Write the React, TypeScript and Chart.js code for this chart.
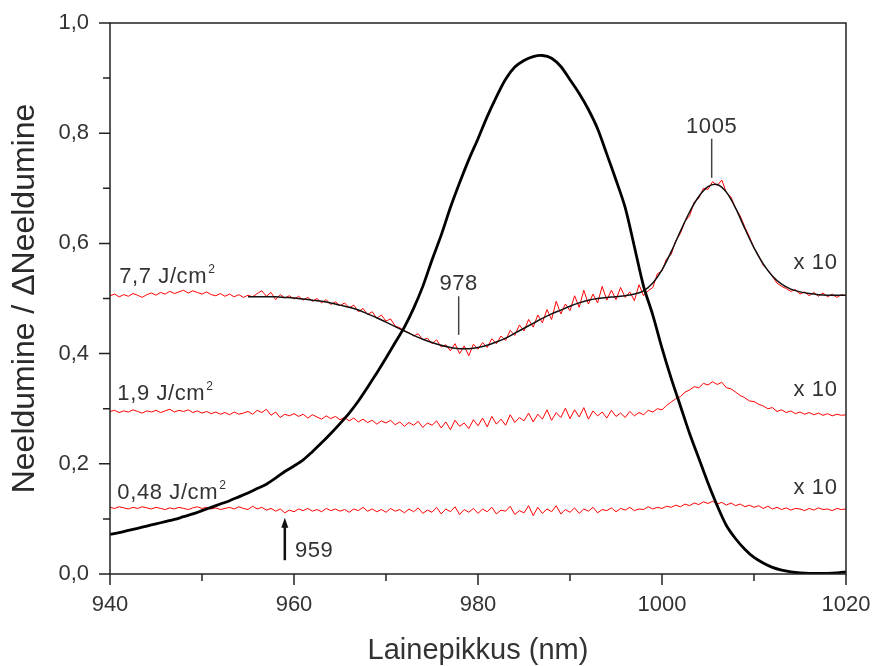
import React, { useEffect, useRef } from 'react';
import { Chart, registerables } from 'chart.js';
Chart.register(...registerables);

// ---- axis ranges / ticks ----
const X_MIN = 940;
const X_MAX = 1020;
const Y_MIN = 0;
const Y_MAX = 1;
const X_MAJOR = [940, 960, 980, 1000, 1020];
const X_MINOR = [950, 970, 990, 1010];
const Y_MAJOR = [0, 0.2, 0.4, 0.6, 0.8, 1.0];
const Y_MINOR = [0.1, 0.3, 0.5, 0.7, 0.9];

// ---- absorption spectrum (1 nm step from 940 nm) ----
const absorption = [
  0.072, 0.075, 0.079, 0.083, 0.087, 0.091, 0.095, 0.099, 0.104, 0.109,
  0.115, 0.121, 0.127, 0.133, 0.140, 0.147, 0.155, 0.163, 0.174, 0.186,
  0.196, 0.207, 0.222, 0.238, 0.255, 0.273, 0.292, 0.314, 0.339, 0.365,
  0.392, 0.420, 0.448, 0.482, 0.522, 0.570, 0.615, 0.665, 0.710, 0.752,
  0.790, 0.830, 0.866, 0.898, 0.920, 0.932, 0.939, 0.941, 0.936, 0.921,
  0.897, 0.872, 0.843, 0.808, 0.762, 0.715, 0.665, 0.594, 0.522, 0.470,
  0.410, 0.355, 0.305, 0.255, 0.210, 0.165, 0.124, 0.088, 0.064, 0.045,
  0.030, 0.020, 0.012, 0.007, 0.004, 0.002, 0.001, 0.001, 0.001, 0.002,
  0.004,
];

// ---- fit of the 7,7 J/cm2 difference spectrum (1 nm step from 955 nm) ----
const fit77 = [
  0.503, 0.503, 0.503, 0.503, 0.502, 0.501, 0.499, 0.497, 0.495, 0.492,
  0.488, 0.484, 0.479, 0.472, 0.465, 0.457, 0.449, 0.441, 0.433, 0.426,
  0.420, 0.415, 0.411, 0.409, 0.409, 0.411, 0.415, 0.421, 0.428, 0.437,
  0.446, 0.455, 0.464, 0.472, 0.479, 0.486, 0.492, 0.497, 0.500, 0.502,
  0.503, 0.505, 0.508, 0.514, 0.528, 0.552, 0.585, 0.622, 0.657, 0.685,
  0.703, 0.707, 0.693, 0.664, 0.627, 0.592, 0.563, 0.541, 0.526, 0.517,
  0.512, 0.509, 0.507, 0.506, 0.506, 0.506,
];

// ---- difference spectra x10 (0.5 nm step from 940 nm) ----
const diff77 = [
  0.505, 0.508, 0.503, 0.507, 0.504, 0.509, 0.506, 0.502, 0.507, 0.510,
  0.506, 0.511, 0.508, 0.513, 0.509, 0.512, 0.515, 0.510, 0.514, 0.511,
  0.508, 0.512, 0.507, 0.505, 0.509, 0.504, 0.508, 0.503, 0.507, 0.502,
  0.506, 0.503, 0.509, 0.514, 0.504, 0.511, 0.498, 0.507, 0.501, 0.505,
  0.499, 0.504, 0.497, 0.502, 0.495, 0.500, 0.492, 0.498, 0.489, 0.494,
  0.487, 0.492, 0.483, 0.488, 0.476, 0.482, 0.471, 0.476, 0.464, 0.470,
  0.459, 0.463, 0.450, 0.447, 0.441, 0.438, 0.432, 0.436, 0.425, 0.428,
  0.418, 0.425, 0.412, 0.416, 0.405, 0.418, 0.400, 0.414, 0.396, 0.417,
  0.408, 0.420, 0.411, 0.427, 0.418, 0.432, 0.424, 0.442, 0.433, 0.452,
  0.441, 0.462, 0.448, 0.470, 0.456, 0.480, 0.462, 0.495, 0.472, 0.490,
  0.478, 0.505, 0.484, 0.515, 0.490, 0.508, 0.492, 0.522, 0.497, 0.515,
  0.498, 0.520, 0.502, 0.512, 0.496, 0.525, 0.505, 0.514, 0.520, 0.545,
  0.550, 0.572, 0.580, 0.605, 0.618, 0.640, 0.650, 0.675, 0.682, 0.700,
  0.698, 0.712, 0.705, 0.715, 0.692, 0.684, 0.664, 0.650, 0.630, 0.612,
  0.592, 0.578, 0.560, 0.552, 0.540, 0.528, 0.522, 0.518, 0.513, 0.516,
  0.508, 0.512, 0.505, 0.511, 0.504, 0.510, 0.503, 0.508, 0.502, 0.507,
  0.505,
];

const diff19 = [
  0.295, 0.297, 0.293, 0.296, 0.294, 0.298, 0.295, 0.292, 0.296, 0.294,
  0.297, 0.293, 0.296, 0.299, 0.294, 0.297, 0.295, 0.298, 0.293, 0.296,
  0.292, 0.295, 0.291, 0.294, 0.290, 0.293, 0.289, 0.294, 0.290, 0.292,
  0.295, 0.290, 0.297, 0.293, 0.299, 0.288, 0.294, 0.284, 0.290, 0.287,
  0.291, 0.286, 0.290, 0.283, 0.289, 0.285, 0.281, 0.287, 0.282, 0.286,
  0.280, 0.284, 0.278, 0.283, 0.276, 0.281, 0.275, 0.279, 0.272, 0.278,
  0.274, 0.279, 0.271, 0.276, 0.268, 0.275, 0.270, 0.277, 0.266, 0.274,
  0.270, 0.278, 0.265, 0.276, 0.262, 0.279, 0.268, 0.274, 0.264, 0.280,
  0.269, 0.283, 0.267, 0.286, 0.272, 0.281, 0.270, 0.289, 0.275, 0.284,
  0.278, 0.292, 0.276, 0.290, 0.281, 0.298, 0.279, 0.293, 0.284, 0.301,
  0.282, 0.298, 0.285, 0.302, 0.281, 0.296, 0.287, 0.294, 0.283, 0.297,
  0.286, 0.292, 0.284, 0.295, 0.287, 0.293, 0.289, 0.297, 0.294, 0.300,
  0.298, 0.306, 0.312, 0.318, 0.322, 0.330, 0.334, 0.340, 0.338, 0.346,
  0.343, 0.349, 0.344, 0.348, 0.338, 0.336, 0.330, 0.324, 0.320, 0.314,
  0.313, 0.308, 0.305, 0.300, 0.302, 0.295, 0.298, 0.293, 0.296, 0.291,
  0.294, 0.290, 0.293, 0.289, 0.292, 0.288, 0.291, 0.287, 0.290, 0.288,
  0.289,
];

const diff048 = [
  0.121, 0.119, 0.122, 0.120, 0.118, 0.121, 0.119, 0.122, 0.120, 0.118,
  0.121, 0.119, 0.117, 0.120, 0.118, 0.121, 0.119, 0.117, 0.120, 0.122,
  0.119, 0.121, 0.118, 0.120, 0.117, 0.119, 0.121, 0.118, 0.122, 0.119,
  0.117, 0.123, 0.118, 0.121, 0.116, 0.119, 0.114, 0.118, 0.111, 0.116,
  0.113, 0.118, 0.115, 0.119, 0.114, 0.117, 0.113, 0.119, 0.115, 0.118,
  0.114, 0.117, 0.112, 0.118, 0.115, 0.121, 0.114, 0.118, 0.113, 0.117,
  0.112, 0.119, 0.114, 0.117, 0.111, 0.118, 0.113, 0.120, 0.110, 0.116,
  0.112, 0.121, 0.109, 0.118, 0.113, 0.122, 0.108, 0.117, 0.112, 0.119,
  0.110, 0.118, 0.113, 0.121, 0.109, 0.116, 0.114, 0.123, 0.108, 0.115,
  0.111, 0.124, 0.106, 0.121, 0.110, 0.118, 0.113, 0.124, 0.109, 0.117,
  0.112, 0.120, 0.110, 0.118, 0.114, 0.121, 0.111, 0.117, 0.115, 0.120,
  0.113, 0.119, 0.116, 0.121, 0.115, 0.118, 0.117, 0.122, 0.118, 0.121,
  0.119, 0.123, 0.121, 0.125, 0.122, 0.127, 0.124, 0.129, 0.126, 0.131,
  0.128, 0.132, 0.127, 0.130, 0.125, 0.129, 0.124, 0.127, 0.122, 0.125,
  0.121, 0.124, 0.119, 0.123, 0.118, 0.121, 0.117, 0.120, 0.116, 0.119,
  0.118, 0.115, 0.119, 0.116, 0.120, 0.117, 0.118, 0.115, 0.119, 0.117,
  0.118,
];

// ---- text annotations (data coordinates) ----
const fluenceLabels = [
  { text: '7,7 J/cm', sup: '2', x: 941.0, y: 0.528 },
  { text: '1,9 J/cm', sup: '2', x: 940.8, y: 0.315 },
  { text: '0,48 J/cm', sup: '2', x: 940.8, y: 0.137 },
];
const scaleLabels = [
  { text: 'x 10', x: 1014.3, y: 0.554 },
  { text: 'x 10', x: 1014.3, y: 0.323 },
  { text: 'x 10', x: 1014.3, y: 0.146 },
];
const peakMarks = [
  { text: '978', x: 977.9, textY: 0.515, lineTop: 0.504, lineBottom: 0.434 },
  { text: '1005', x: 1005.4, textY: 0.80, lineTop: 0.79, lineBottom: 0.719 },
];
const arrowMark = { text: '959', x: 959, yTip: 0.102, yTail: 0.025, textX: 960.1, textY: 0.03 };

const FONT = '"Liberation Sans", Arial, Helvetica, sans-serif';
const TEXT = '#333333';

const toPoints = (start: number, step: number, ys: number[]) =>
  ys.map((y, i) => ({ x: start + i * step, y }));

const decorPlugin = {
  id: 'decor',
  afterDatasetsDraw(chart: any) {
    const { ctx, chartArea, scales } = chart;
    const xs = scales.x;
    const ys = scales.y;
    ctx.save();
    // frame
    ctx.strokeStyle = '#222';
    ctx.lineWidth = 1.5;
    ctx.strokeRect(chartArea.left, chartArea.top, chartArea.right - chartArea.left, chartArea.bottom - chartArea.top);
    // ticks
    ctx.beginPath();
    for (const v of X_MAJOR) {
      const px = xs.getPixelForValue(v);
      ctx.moveTo(px, chartArea.bottom);
      ctx.lineTo(px, chartArea.bottom + 11);
    }
    for (const v of X_MINOR) {
      const px = xs.getPixelForValue(v);
      ctx.moveTo(px, chartArea.bottom);
      ctx.lineTo(px, chartArea.bottom + 7);
    }
    for (const v of Y_MAJOR) {
      const py = ys.getPixelForValue(v);
      ctx.moveTo(chartArea.left, py);
      ctx.lineTo(chartArea.left - 11, py);
    }
    for (const v of Y_MINOR) {
      const py = ys.getPixelForValue(v);
      ctx.moveTo(chartArea.left, py);
      ctx.lineTo(chartArea.left - 7, py);
    }
    ctx.stroke();

    // fluence labels with superscript
    ctx.fillStyle = TEXT;
    ctx.textBaseline = 'alphabetic';
    ctx.textAlign = 'left';
    try { (ctx as any).letterSpacing = '0.6px'; } catch (e) { /* ignore */ }
    for (const l of fluenceLabels) {
      const px = xs.getPixelForValue(l.x);
      const py = ys.getPixelForValue(l.y);
      ctx.font = `22px ${FONT}`;
      ctx.fillText(l.text, px, py);
      const w = ctx.measureText(l.text).width;
      ctx.font = `12px ${FONT}`;
      ctx.fillText(l.sup, px + w + 1, py - 10);
    }
    ctx.font = `22px ${FONT}`;
    for (const l of scaleLabels) {
      ctx.fillText(l.text, xs.getPixelForValue(l.x), ys.getPixelForValue(l.y));
    }
    // peak marks
    ctx.textAlign = 'center';
    ctx.strokeStyle = '#444';
    ctx.lineWidth = 1.5;
    for (const m of peakMarks) {
      const px = xs.getPixelForValue(m.x);
      ctx.fillText(m.text, px, ys.getPixelForValue(m.textY));
      ctx.beginPath();
      ctx.moveTo(px, ys.getPixelForValue(m.lineTop));
      ctx.lineTo(px, ys.getPixelForValue(m.lineBottom));
      ctx.stroke();
    }
    // arrow 959
    const ax = xs.getPixelForValue(arrowMark.x);
    const tip = ys.getPixelForValue(arrowMark.yTip);
    const tail = ys.getPixelForValue(arrowMark.yTail);
    ctx.strokeStyle = '#111';
    ctx.lineWidth = 2.5;
    ctx.beginPath();
    ctx.moveTo(ax, tail);
    ctx.lineTo(ax, tip + 8);
    ctx.stroke();
    ctx.fillStyle = '#111';
    ctx.beginPath();
    ctx.moveTo(ax, tip);
    ctx.lineTo(ax - 3.5, tip + 10);
    ctx.lineTo(ax + 3.5, tip + 10);
    ctx.closePath();
    ctx.fill();
    ctx.fillStyle = TEXT;
    ctx.textAlign = 'left';
    ctx.fillText(arrowMark.text, xs.getPixelForValue(arrowMark.textX), ys.getPixelForValue(arrowMark.textY));
    ctx.restore();
  },
};

export default function App() {
  const ref = useRef<HTMLCanvasElement | null>(null);
  useEffect(() => {
    if (!ref.current) return;
    const chart = new Chart(ref.current, {
      type: 'line',
      data: {
        datasets: [
          {
            label: 'Neeldumine',
            data: toPoints(940, 1, absorption),
            borderColor: '#000',
            borderWidth: 2.8,
            pointRadius: 0,
            tension: 0.3,
          },
          {
            label: 'Sobitus 7,7',
            data: toPoints(955, 1, fit77),
            borderColor: '#111',
            borderWidth: 1.5,
            pointRadius: 0,
            tension: 0.3,
          },
          {
            label: '7,7 J/cm2',
            data: toPoints(940, 0.5, diff77),
            borderColor: '#ff0000',
            borderWidth: 1,
            pointRadius: 0,
            tension: 0,
          },
          {
            label: '1,9 J/cm2',
            data: toPoints(940, 0.5, diff19),
            borderColor: '#ff0000',
            borderWidth: 1,
            pointRadius: 0,
            tension: 0,
          },
          {
            label: '0,48 J/cm2',
            data: toPoints(940, 0.5, diff048),
            borderColor: '#ff0000',
            borderWidth: 1,
            pointRadius: 0,
            tension: 0,
          },
        ],
      },
      options: {
        animation: false,
        responsive: false,
        devicePixelRatio: 1,
        layout: { padding: { top: 23, right: 26, left: 0, bottom: 0 } },
        plugins: { legend: { display: false }, tooltip: { enabled: false } },
        scales: {
          x: {
            type: 'linear',
            min: X_MIN,
            max: X_MAX,
            grid: { display: false, drawTicks: false },
            border: { display: false },
            afterFit: (s: any) => {
              s.height = 92;
              s.paddingLeft = 0;
              s.paddingRight = 0;
              s.paddingTop = 0;
              s.paddingBottom = 0;
            },
            ticks: {
              stepSize: 20,
              padding: 18,
              color: TEXT,
              font: { family: FONT, size: 22 },
              callback: (v: any) => String(v),
            },
            title: {
              display: true,
              text: 'Lainepikkus (nm)',
              color: TEXT,
              font: { family: FONT, size: 29, lineHeight: 1 },
              padding: { top: 0, bottom: 1 },
            },
          },
          y: {
            type: 'linear',
            min: Y_MIN,
            max: Y_MAX,
            grid: { display: false, drawTicks: false },
            border: { display: false },
            afterFit: (s: any) => {
              s.width = 110;
              s.paddingLeft = 0;
              s.paddingRight = 0;
              s.paddingTop = 0;
              s.paddingBottom = 0;
            },
            ticks: {
              stepSize: 0.2,
              padding: 21,
              color: TEXT,
              font: { family: FONT, size: 22 },
              callback: (v: any) => Number(v).toFixed(1).replace('.', ','),
            },
            title: {
              display: true,
              text: 'Neeldumine / ΔNeeldumine',
              color: '#2a2a2a',
              font: { family: FONT, size: 32, lineHeight: 1 },
              padding: { top: 9, bottom: 0 },
            },
          },
        },
      },
      plugins: [decorPlugin],
    });
    return () => chart.destroy();
  }, []);
  return (
    <div style={{ position: 'fixed', left: 0, top: 0, width: 872, height: 666, background: '#fff' }}>
      <canvas ref={ref} width={872} height={666} style={{ display: 'block' }} />
    </div>
  );
}
